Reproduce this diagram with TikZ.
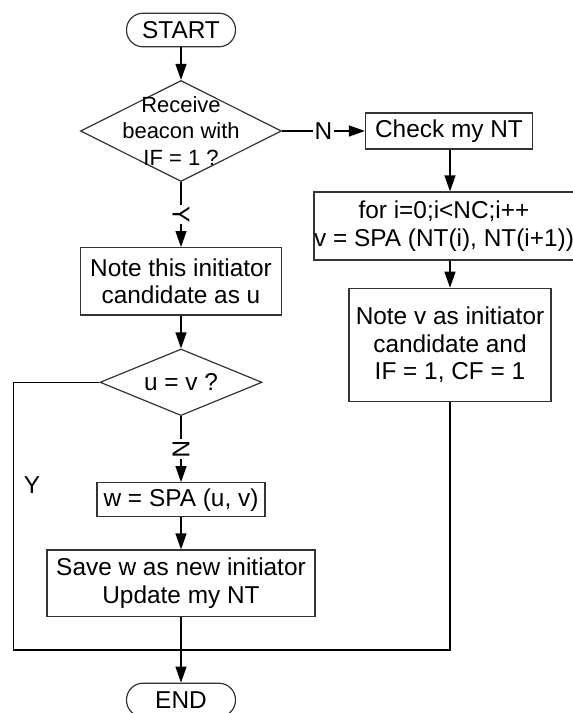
\documentclass[tikz,border=0pt]{standalone}
\usepackage{fontspec}
\setmainfont{Liberation Sans}
\usetikzlibrary{arrows.meta,shapes.geometric}

\begin{document}
\begin{tikzpicture}[x=0.5pt,y=-0.5pt,>={Triangle[length=8pt,width=5.5pt]},line width=0.6pt,
                    font=\fontsize{12.2}{13.8}\selectfont,
                    term/.style={draw=black!80,rectangle,rounded corners=8.3pt,inner sep=0pt,minimum width=54.5pt,minimum height=16.8pt},
                    proc/.style={draw=black!80,rectangle,inner sep=0pt,align=center},
                    cond/.style={draw=black!80,diamond,inner sep=0pt,align=center},
                    tag/.style={fill=white,inner sep=0.6pt}]
                  \useasboundingbox (0,0) rectangle (573,713);
                  \node[term]  		(start) at (181,30)      {START};
                  \node[cond,minimum width=100.5pt,minimum height=50.5pt]
                                        (recv) at (181,131)     {};
                  \node[font=\fontsize{11}{13.2}\selectfont,align=center]
                                        (recvtxt) at (recv)      {Receive\\beacon with\\IF = 1 ?};
                  \node[proc,minimum width=83.5pt,minimum height=18pt]
                                        (check) at (449,131)    {Check my NT};
                  \node[proc,minimum width=128pt,minimum height=34pt]
                                        (forloop) at (444,226)  {for i=0;i<NC;i++\\v = SPA (NT(i), NT(i+1))};
                  \node[proc,minimum width=101pt,minimum height=56.7pt]
                                        (notev) at (450,345)    {Note v as initiator\\candidate and\\IF = 1, CF = 1};
                  \node[proc,minimum width=100.5pt,minimum height=33.7pt]
                                        (noteu) at (181,281.3)  {Note this initiator\\candidate as u};
                  \node[cond,minimum width=81pt,minimum height=33.3pt]
                                        (same) at (181,382.3)   {};
                  \node                 (sametxt) at (same)      {u = v ?};
                  \node[proc,minimum width=84pt,minimum height=17pt]
                                        (calcw) at (181,499.7)  {w = SPA (u, v)};
                  \node[proc,minimum width=134pt,minimum height=33.3pt]
                                        (save) at (181,583.3)   {Save w as new initiator\\Update my NT};
                  \node[term]  		(end) at (181,700)      {END};
                  \coordinate           (corner) at (13.5,650);
                  \coordinate           (join) at (181,650);

                      \draw[->] (start) -- (recv);
                      \draw[->] (recv) -- node[tag,rotate=-90] (yes) {Y} (noteu);
                      \draw[->] (recv) -- node[tag,pos=0.5] (no) {N} (check);
                      \draw[->] (check.south -| notev) -- (forloop.north -| notev);
                      \draw[->] (forloop.south -| notev) -- (notev);
                      \draw[->] (noteu) -- (same);
                      \draw[->] (same) -- node[tag,rotate=-90,pos=0.5] (no2) {N} (calcw);
                      \draw[->] (calcw) -- (save);
                      \draw (same.west) -| (corner) -- (join);
                      \draw (notev.south) |- (join);
                      \draw[->] (save) -- (end);
                  \node                 (yes2) at (32,485)       {Y};
        \end{tikzpicture}
\end{document}
